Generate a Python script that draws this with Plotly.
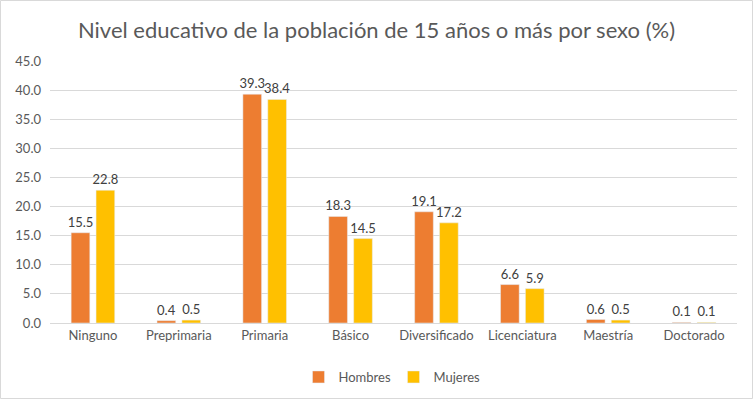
import plotly.graph_objects as go

categories = ["Ninguno", "Preprimaria", "Primaria", "Básico", "Diversificado",
              "Licenciatura", "Maestría", "Doctorado"]
hombres = [15.5, 0.4, 39.3, 18.3, 19.1, 6.6, 0.6, 0.1]
mujeres = [22.8, 0.5, 38.4, 14.5, 17.2, 5.9, 0.5, 0.1]
y_ticks = [0, 5, 10, 15, 20, 25, 30, 35, 40, 45]

FONT = "Lato, 'Open Sans', sans-serif"
TXT = "#595959"

fig = go.Figure()
fig.add_trace(go.Bar(name="Hombres", x=categories, y=hombres, marker_color="#ED7D31",
                     text=[f"{v:.1f}" for v in hombres], textposition="outside",
                     textfont=dict(color="#404040", size=13), cliponaxis=False))
fig.add_trace(go.Bar(name="Mujeres", x=categories, y=mujeres, marker_color="#FFC000",
                     text=[f"{v:.1f}" for v in mujeres], textposition="outside",
                     textfont=dict(color="#404040", size=13), cliponaxis=False))

W, H = 753, 399
L, R, T, B = 50, 16, 61, 76
pw, ph = W - L - R, H - T - B

fig.update_layout(
    width=W, height=H,
    margin=dict(l=L, r=R, t=T, b=B, autoexpand=False),
    paper_bgcolor="white", plot_bgcolor="white",
    font=dict(family=FONT, color=TXT, size=13),
    uniformtext=dict(minsize=13, mode="show"),
    title=dict(text="Nivel educativo de la población de 15 años o más por sexo (%)",
               x=0.5, xanchor="center", y=1 - 30 / H, yanchor="middle",
               font=dict(size=22, color=TXT, family=FONT)),
    barmode="group", bargap=0.42, bargroupgap=0.25,
    showlegend=True,
    legend=dict(orientation="h", x=0.5, xanchor="center", y=-(377 - (T + ph)) / ph,
                yanchor="middle", font=dict(size=13, color=TXT), itemwidth=30,
                entrywidth=50, entrywidthmode="pixels",
                traceorder="normal"),
    xaxis=dict(showgrid=False, showline=True, linecolor="#d9d9d9", linewidth=1,
               ticks="", tickfont=dict(size=13, color=TXT), automargin=False),
    yaxis=dict(range=[0, 45], tickvals=y_ticks, tickformat=".1f",
               showgrid=True, gridcolor="#d9d9d9", gridwidth=1, zeroline=False,
               showline=False, tickfont=dict(size=13, color=TXT), ticklabelstandoff=8,
               automargin=False),
    shapes=[dict(type="rect", xref="paper", yref="paper",
                 x0=(0.5 - L) / pw, x1=(W - 0.5 - L) / pw,
                 y0=(T + ph - (H - 0.5)) / ph, y1=(T + ph - 0.5) / ph,
                 line=dict(color="#d9d9d9", width=1), fillcolor="rgba(0,0,0,0)", layer="below")],
)

fig.write_html("out.html", config={"displayModeBar": False},
               post_script="document.body.style.margin='0';document.body.style.overflow='hidden';")
